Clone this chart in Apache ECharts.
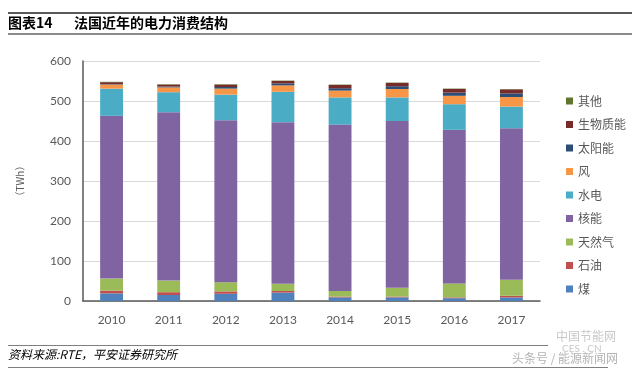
<!DOCTYPE html>
<html>
<head>
<meta charset="utf-8">
<script src="https://cdn.jsdelivr.net/npm/echarts@6/dist/echarts.min.js"></script>
<style>
  html, body { margin: 0; padding: 0; background: #fff; }
  #chart { width: 640px; height: 375px; }
</style>
</head>
<body>
<div id="chart"></div>
<script>
// years and TWh values
const years = ['2010', '2011', '2012', '2013', '2014', '2015', '2016', '2017']
const coal = [19, 15, 18, 21, 9, 9, 7, 9]
const oil = [7, 7, 6, 4, 2, 2, 2, 4]
const gas = [30, 29, 23, 18, 14, 22, 35, 40]
const nuclear = [407, 421, 405, 404, 416, 417, 384, 379]
const hydro = [68, 50, 64, 76, 68, 59, 64, 54]
const wind = [10, 12, 15, 16, 17, 21, 21, 24]
const solar = [1, 2, 4, 5, 6, 7, 8, 9]
const biomass = [5, 5, 6, 6, 8, 8, 9, 10]
const other = [1, 1, 1, 1, 1, 1, 1, 1]
const yTicks = [0, 100, 200, 300, 400, 500, 600]

const seriesDefs = [
  { name: '煤', data: coal, color: '#4F81BD' },
  { name: '石油', data: oil, color: '#C0504D' },
  { name: '天然气', data: gas, color: '#9BBB59' },
  { name: '核能', data: nuclear, color: '#8064A2' },
  { name: '水电', data: hydro, color: '#4BACC6' },
  { name: '风', data: wind, color: '#F79646' },
  { name: '太阳能', data: solar, color: '#2C4D75' },
  { name: '生物质能', data: biomass, color: '#772C2A' },
  { name: '其他', data: other, color: '#5F7530' }
]

const numFont = 'Lato, "Noto Sans CJK SC", sans-serif'
const cnFont = '"Noto Sans CJK SC", sans-serif'

const chart = echarts.init(document.getElementById('chart'))
chart.setOption({
  animation: false,
  backgroundColor: '#fff',
  grid: { left: 83, right: 100, top: 61, bottom: 74 },
  legend: {
    orient: 'vertical',
    left: 561,
    top: 89,
    icon: 'rect',
    itemWidth: 7,
    itemHeight: 7,
    itemGap: 9.5,
    data: seriesDefs.map(s => s.name).reverse(),
    textStyle: { fontFamily: cnFont, fontSize: 12, color: '#595959', lineHeight: 14 }
  },
  xAxis: {
    type: 'category',
    data: years,
    axisLine: { lineStyle: { color: '#595959', width: 1.5 } },
    axisTick: { show: false },
    axisLabel: { fontFamily: numFont, fontSize: 12, color: '#595959', margin: 13 }
  },
  yAxis: {
    type: 'value',
    min: yTicks[0],
    max: yTicks[yTicks.length - 1],
    interval: 100,
    name: '（TWh）',
    nameLocation: 'middle',
    nameRotate: 90,
    nameGap: 58,
    nameTextStyle: { fontFamily: cnFont, fontSize: 10, color: '#595959' },
    axisLine: { show: true, lineStyle: { color: '#595959', width: 1.5 } },
    axisTick: { show: false },
    splitLine: { lineStyle: { color: '#D9D9D9' } },
    axisLabel: { fontFamily: numFont, fontSize: 12, color: '#595959', margin: 12 }
  },
  series: seriesDefs.map(s => ({
    name: s.name,
    type: 'bar',
    stack: 'total',
    barWidth: '40%',
    data: s.data,
    itemStyle: { color: s.color }
  })),
  graphic: [
    { type: 'rect', shape: { x: 8, y: 12, width: 624, height: 2 }, style: { fill: '#595959' } },
    { type: 'rect', shape: { x: 8, y: 33, width: 624, height: 2 }, style: { fill: '#8c8c8c' } },
    {
      type: 'text', left: 8, top: 16,
      style: { text: '图表14', font: 'bold 14px ' + cnFont, fill: '#000' }
    },
    {
      type: 'text', left: 74, top: 16,
      style: { text: '法国近年的电力消费结构', font: 'bold 14px ' + cnFont, fill: '#000' }
    },
    { type: 'rect', shape: { x: 8, y: 345, width: 540, height: 1 }, style: { fill: '#7f7f7f' } },
    { type: 'rect', shape: { x: 8, y: 367, width: 600, height: 1 }, style: { fill: '#7f7f7f' } },
    {
      type: 'text', left: 8, top: 348,
      style: { text: '资料来源:RTE，平安证券研究所', font: 'italic 12px ' + cnFont, fill: '#000' }
    },
    {
      type: 'text', left: 556, top: 330,
      style: { text: '中国节能网', font: '12px ' + cnFont, fill: '#c8c8c8' }
    },
    {
      type: 'text', left: 562, top: 344,
      style: { text: 'CES . CN', font: '10px ' + numFont, fill: '#c8c8c8' }
    },
    {
      type: 'text', left: 512, top: 352,
      style: { text: '头条号 / 能源新闻网', font: '12px ' + cnFont, fill: '#b4b4b4' }
    }
  ]
})
</script>
</body>
</html>
